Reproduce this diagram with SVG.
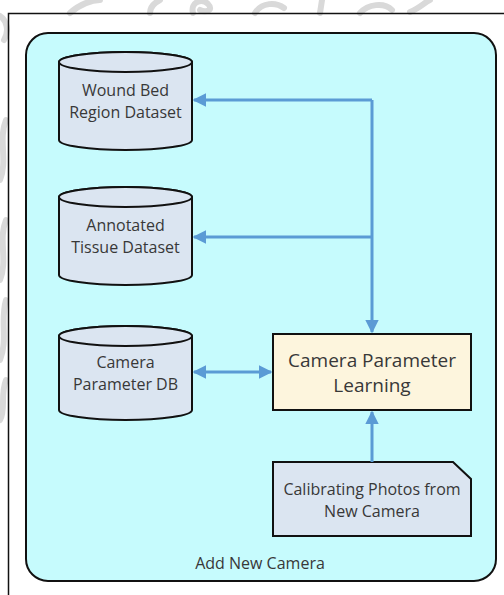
<svg xmlns="http://www.w3.org/2000/svg" width="504" height="595" viewBox="0 0 504 595">
  <style>
    .lbl { font-family: "Open Sans", "Liberation Sans", sans-serif; fill: #383838; text-anchor: middle; }
    .db { fill: #dbe5f1; stroke: #111; stroke-width: 2; }
    .wire { fill: none; stroke: #5b9bd5; stroke-width: 3; }
    .mark { fill: none; stroke: #d9d9d9; stroke-width: 6; stroke-linecap: round; }
  </style>
  <defs>
    <marker id="arrow" viewBox="0 0 10 10" refX="9" refY="5" markerWidth="4.6" markerHeight="4.6" orient="auto-start-reverse" markerUnits="strokeWidth">
      <path d="M0,0 L10,5 L0,10 z" fill="#5b9bd5"/>
    </marker>
  </defs>

  <rect width="504" height="595" fill="#ffffff"/>

  <!-- faint background emblem strokes -->
  <g id="emblem">
    <path class="mark" d="M70,13 C80,4 92,0 100,0"/>
    <path class="mark" d="M193,13 C190,2 202,-2 208,4 C214,10 206,13 200,10"/>
    <path class="mark" d="M150,13 C150,6 156,2 160,0"/>
    <path class="mark" d="M255,13 C262,2 276,2 284,8"/>
    <path class="mark" d="M320,13 L322,0"/>
    <path class="mark" d="M360,13 C368,4 384,2 392,10"/>
    <path class="mark" d="M410,12 C420,8 425,2 430,0"/>
    <path class="mark" d="M4,40 C10,30 6,20 0,16"/>
    <path class="mark" d="M6,120 C-2,140 8,160 0,180"/>
    <path class="mark" d="M6,220 C-2,240 8,260 0,280"/>
    <path class="mark" d="M6,300 C0,320 8,340 0,360"/>
    <path class="mark" d="M6,380 C0,395 6,410 0,420"/>
  </g>

  <!-- outer frame -->
  <path d="M8.5,595 V13.5 H504" fill="none" stroke="#111" stroke-width="1.5"/>

  <!-- container -->
  <g id="add-new-camera">
    <rect x="26" y="33" width="470" height="548" rx="22" ry="22" fill="#c6fbfd" stroke="#111" stroke-width="2"/>
    <text class="lbl" x="260" y="569" font-size="16">Add New Camera</text>
  </g>

  <!-- datastores -->
  <g id="wound-bed-dataset">
    <path class="db" d="M59,62 V140 A66.5,10 0 0 0 192,140 V62 A66.5,10 0 0 0 59,62 z"/>
    <ellipse class="db" cx="125.5" cy="62" rx="66.5" ry="10"/>
    <text class="lbl" x="125.5" y="96" font-size="16">Wound Bed</text>
    <text class="lbl" x="125.5" y="118" font-size="16">Region Dataset</text>
  </g>

  <g id="annotated-tissue-dataset">
    <path class="db" d="M59,197 V275 A66.5,10 0 0 0 192,275 V197 A66.5,10 0 0 0 59,197 z"/>
    <ellipse class="db" cx="125.5" cy="197" rx="66.5" ry="10"/>
    <text class="lbl" x="125.5" y="231" font-size="16">Annotated</text>
    <text class="lbl" x="125.5" y="253" font-size="16">Tissue Dataset</text>
  </g>

  <g id="camera-parameter-db">
    <path class="db" d="M59,336 V410 A66.5,10 0 0 0 192,410 V336 A66.5,10 0 0 0 59,336 z"/>
    <ellipse class="db" cx="125.5" cy="336" rx="66.5" ry="10"/>
    <text class="lbl" x="125.5" y="368" font-size="16">Camera</text>
    <text class="lbl" x="125.5" y="390" font-size="16">Parameter DB</text>
  </g>

  <!-- process -->
  <g id="camera-parameter-learning">
    <rect x="273" y="334" width="198" height="76" fill="#fdf5dd" stroke="#111" stroke-width="2"/>
    <text class="lbl" x="372" y="367" font-size="19">Camera Parameter</text>
    <text class="lbl" x="372" y="392" font-size="19">Learning</text>
  </g>

  <!-- input document -->
  <g id="calibrating-photos">
    <path d="M273,462 H453 L471,479 V536 H273 z" fill="#dbe5f1" stroke="#111" stroke-width="2"/>
    <text class="lbl" x="372" y="495" font-size="16">Calibrating Photos from</text>
    <text class="lbl" x="372" y="517" font-size="16">New Camera</text>
  </g>

  <!-- connectors -->
  <g id="connectors">
    <path class="wire" d="M372,100 V332" marker-end="url(#arrow)"/>
    <path class="wire" d="M372,100 H194" marker-end="url(#arrow)"/>
    <path class="wire" d="M372,237 H194" marker-end="url(#arrow)"/>
    <path class="wire" d="M194,372 H271" marker-start="url(#arrow)" marker-end="url(#arrow)"/>
    <path class="wire" d="M372,462 V412" marker-end="url(#arrow)"/>
  </g>
</svg>
